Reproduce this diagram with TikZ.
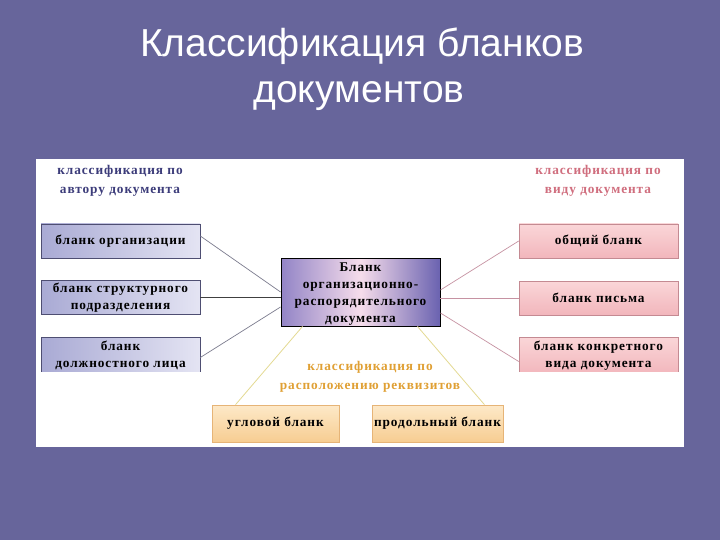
\documentclass[tikz,border=0pt]{standalone}
\usepackage{fontspec}
\setmainfont{Liberation Serif}
\newfontfamily\titlefont{Liberation Sans}
\newfontfamily\boxfont[LetterSpace=7]{Liberation Serif}
\usetikzlibrary{calc}
\definecolor{bgpurple}{HTML}{67659B}
\definecolor{lavL}{HTML}{A9AAD4}
\definecolor{lavR}{HTML}{E4E4F3}
\definecolor{lavB}{HTML}{4E4E72}
\definecolor{pinkT}{HTML}{FAD6D8}
\definecolor{pinkB}{HTML}{F2B6BC}
\definecolor{pinkD}{HTML}{C48A92}
\definecolor{peachT}{HTML}{FDE9C8}
\definecolor{peachB}{HTML}{F7CD92}
\definecolor{peachD}{HTML}{E6B477}
\definecolor{cenL}{HTML}{9284C6}
\definecolor{cenM}{HTML}{F6DDEB}
\definecolor{cenR}{HTML}{6A62B0}
\definecolor{hdNavy}{HTML}{3C3C7A}
\definecolor{hdPink}{HTML}{D06E7E}
\definecolor{hdOrange}{HTML}{E0A034}
\definecolor{lnGray}{HTML}{7C7C8E}
\definecolor{lnPink}{HTML}{C692A2}
\definecolor{lnYellow}{HTML}{E4DA92}
\tikzset{
  boxtext/.style={font={\boxfont\bfseries\fontsize{13.3}{17}\selectfont}, align=center, inner sep=0pt, text=black},
  lbox/.style={boxtext, draw=lavB, line width=0.6pt, left color=lavL, right color=lavR, minimum width=159pt, minimum height=34pt},
  rbox/.style={boxtext, draw=pinkD, line width=0.6pt, top color=pinkT, bottom color=pinkB, minimum width=159pt, minimum height=34pt},
  bbox/.style={boxtext, draw=peachD, line width=0.6pt, top color=peachT, bottom color=peachB, minimum height=37pt},
  cbox/.style={boxtext, draw=black, line width=0.9pt, left color=cenL, right color=cenR, middle color=cenM, minimum width=159pt, minimum height=68pt},
  header/.style={font={\boxfont\bfseries\fontsize{13.3}{19}\selectfont}, align=center, inner sep=0pt},
  titletext/.style={font={\titlefont\fontsize{39}{46}\selectfont}, text=white, inner sep=0pt, anchor=base},
  lline/.style={draw=lnGray, line width=0.7pt},
  rline/.style={draw=lnPink, line width=0.7pt},
  bline/.style={draw=lnYellow, line width=0.8pt}
}
\begin{document}
\begin{tikzpicture}[x=1pt,y=-1pt]
\fill[bgpurple] (0,0) rectangle (720,540);
\useasboundingbox (0,0) rectangle (720,540);
\fill[white] (36,159) rectangle (684,447);

\node[titletext] (title1) at (362,57) {Классификация бланков};
\node[titletext] (title2) at (359,103) {документов};

\node[header, text=hdNavy] (hleft) at (120,181) {классификация по\\автору документа};
\node[header, text=hdPink] (hright) at (598,181) {классификация по\\виду документа};
\node[header, text=hdOrange] (hbottom) at (370,377) {классификация по\\расположению реквизитов};

\node[lbox] (lb1) at (120.5,241) {бланк организации};
\node[lbox] (lb2) at (120.5,297.5) {бланк структурного\\подразделения};
\node[rbox] (rb1) at (598.5,241) {общий бланк};
\node[rbox] (rb2) at (598.5,298) {бланк письма};
\begin{scope}
\clip (0,0) rectangle (720,371);
\node[lbox, minimum height=37pt] (lb3) at (120.5,355.5) {бланк\\должностного лица};
\node[rbox, minimum height=37pt] (rb3) at (598.5,355.5) {бланк конкретного\\вида документа};
\end{scope}

\node[cbox] (cb) at (360.5,292) {};
\node[boxtext] (cbtext) at (360.5,294) {Бланк\\организационно-\\распорядительного\\документа};

\node[bbox, minimum width=127pt] (bb1) at (275.5,423.5) {угловой бланк};
\node[bbox, minimum width=131pt] (bb2) at (437.5,423.5) {продольный бланк};

\draw[lline] ($(lb1.east)+(0,-5)$) -- ($(cb.west)+(0,0)$);
\draw[lline, draw=black!75] (lb2.east) -- (lb2.east -| cb.west);
\draw[lline] ($(lb3.east)+(0,2)$) -- ($(cb.west)+(0,15)$);

\draw[rline] (rb1.west) -- ($(cb.east)+(0,-2)$);
\draw[rline] (rb2.west) -- (rb2.west -| cb.east);
\draw[rline] ($(rb3.west)+(0,6)$) -- ($(cb.east)+(0,21)$);

\draw[bline] ($(cb.south)+(-58,0)$) -- ($(bb1.north)+(-40,0)$);
\draw[bline] ($(cb.south)+(57,0)$) -- ($(bb2.north)+(47,0)$);
\end{tikzpicture}
\end{document}
